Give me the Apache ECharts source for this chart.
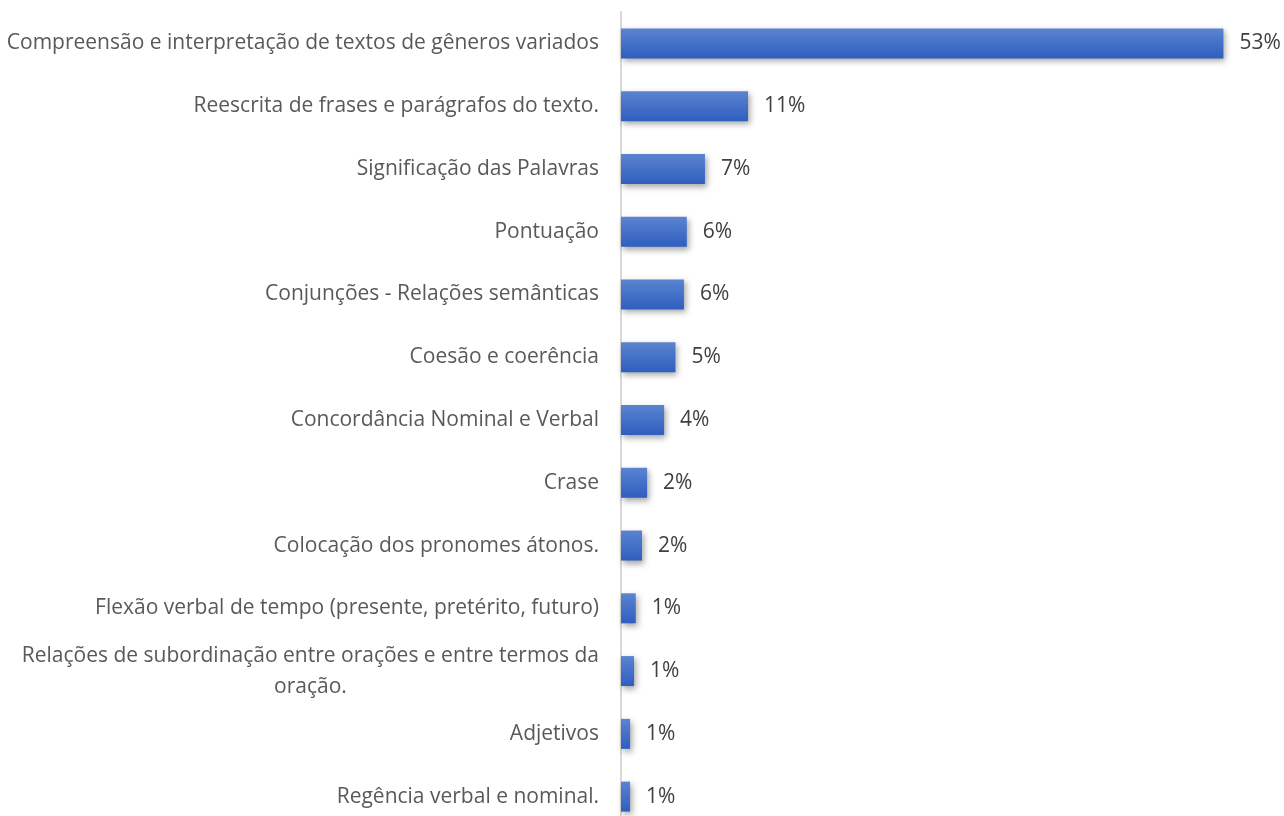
<!DOCTYPE html>
<html>
<head>
<meta charset="utf-8">
<script src="https://cdn.jsdelivr.net/npm/echarts@6/dist/echarts.min.js"></script>
<style>
  html, body { margin: 0; padding: 0; background: #fff; overflow: hidden; }
  #chart { width: 1284px; height: 828px; }
</style>
</head>
<body>
<div id="chart"></div>
<script>
// categories, top to bottom
var topics = [
  "Compreensão e interpretação de textos de gêneros variados",
  "Reescrita de frases e parágrafos do texto.",
  "Significação das Palavras",
  "Pontuação",
  "Conjunções - Relações semânticas",
  "Coesão e coerência",
  "Concordância Nominal e Verbal",
  "Crase",
  "Colocação dos pronomes átonos.",
  "Flexão verbal de tempo (presente, pretérito, futuro)",
  "Relações de subordinação entre orações e entre termos da\noração.",
  "Adjetivos",
  "Regência verbal e nominal."
];
// share in % (labels show rounded values)
var shares = [53.1, 11.2, 7.4, 5.8, 5.55, 4.8, 3.8, 2.3, 1.85, 1.3, 1.15, 0.8, 0.8];

var chart = echarts.init(document.getElementById("chart"));

var font = "'Open Sans', 'Noto Sans', sans-serif";

// the plot runs past the bottom edge of the 816px window, like the original
chart.setOption({
  animation: false,
  grid: { left: 621, top: 12, bottom: 0, right: 5 },
  xAxis: {
    type: "value",
    min: 0,
    max: 58,
    show: false
  },
  yAxis: {
    type: "category",
    data: topics,
    inverse: true,
    axisTick: { show: false },
    axisLine: { show: true, lineStyle: { color: "#d9d9d9", width: 2 } },
    axisLabel: {
      margin: 22,
      fontFamily: font,
      fontSize: 21,
      color: "#595959",
      lineHeight: 31,
      formatter: function (v) {
        return v.split("\n").map(function (s) { return "{c|" + s + "}"; }).join("\n");
      },
      rich: {
        c: { align: "center", fontFamily: font, fontSize: 21, color: "#595959", lineHeight: 31 }
      }
    }
  },
  series: [{
    type: "bar",
    data: shares,
    barWidth: 30,
    itemStyle: {
      color: new echarts.graphic.LinearGradient(0, 0, 0, 1, [
        { offset: 0, color: "#5b84d0" },
        { offset: 1, color: "#2e5ebf" }
      ]),
      shadowColor: "rgba(0,0,0,0.35)",
      shadowBlur: 6,
      shadowOffsetX: 2,
      shadowOffsetY: 3
    },
    label: {
      show: true,
      position: "right",
      distance: 16,
      fontFamily: font,
      fontSize: 21,
      color: "#404040",
      formatter: function (p) { return Math.round(p.value) + "%"; }
    }
  }]
});
</script>
</body>
</html>
